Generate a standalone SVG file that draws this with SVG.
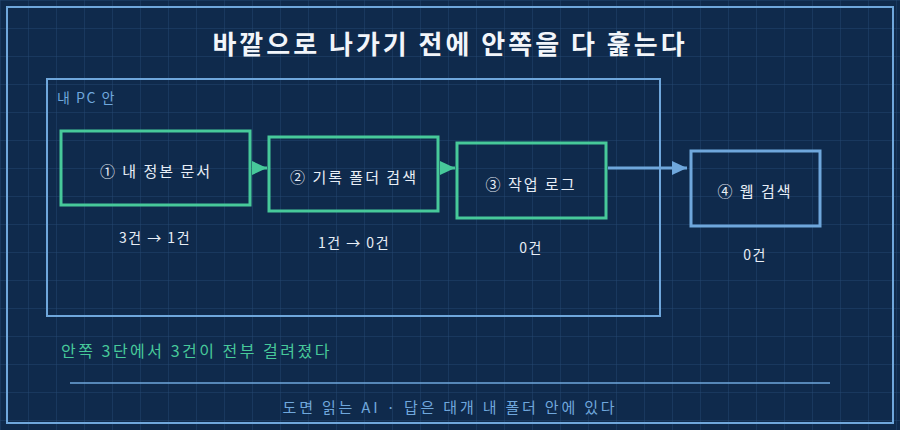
<svg xmlns="http://www.w3.org/2000/svg" width="900" height="430" viewBox="0 0 900 430">
<defs>
<pattern id="grid" width="28" height="28" patternUnits="userSpaceOnUse"><path d="M0 0H28M0 0V28" fill="none" stroke="#23466f" stroke-width="1"/></pattern>
<marker id="ag" markerWidth="16" markerHeight="14" refX="15" refY="7" orient="auto" markerUnits="userSpaceOnUse"><path d="M0 0L15 7L0 14z" fill="#47c99a"/></marker>
<marker id="ab" markerWidth="16" markerHeight="14" refX="15" refY="7" orient="auto" markerUnits="userSpaceOnUse"><path d="M0 0L15 7L0 14z" fill="#6fa7dc"/></marker>
<style>
text{font-family:"Noto Sans CJK KR","Noto Sans",sans-serif}
.g{fill:none;stroke:#47c99a;stroke-width:3}
.b{fill:none;stroke:#6fa7dc;stroke-width:3}
.l{fill:#e8eef6;font-size:15px;text-anchor:middle;letter-spacing:2px}
.c{fill:#e8eef6;font-size:14px;text-anchor:middle;letter-spacing:1.5px}
</style>
</defs>
<rect width="900" height="430" fill="#0f2a4c"/>
<rect width="900" height="430" fill="url(#grid)"/>
<rect x="7" y="7" width="886" height="416" fill="none" stroke="#6fa7dc" stroke-width="2"/>
<text x="450" y="54" text-anchor="middle" font-size="26" font-weight="bold" fill="#f2f5fa" letter-spacing="3">바깥으로 나가기 전에 안쪽을 다 훑는다</text>
<g id="pc"><rect x="47" y="79" width="613" height="237" fill="none" stroke="#6fa7dc" stroke-width="2"/>
<text x="57" y="103" font-size="14" fill="#6fa7dc" letter-spacing="1.5">내 PC 안</text></g>
<g id="n1"><rect class="g" x="61" y="131" width="189" height="74"/><text class="l" x="156" y="177">① 내 정본 문서</text><text class="c" x="155" y="243">3건 → 1건</text></g>
<g id="n2"><rect class="g" x="269" y="137" width="169" height="74"/><text class="l" x="354" y="183">② 기록 폴더 검색</text><text class="c" x="354" y="248">1건 → 0건</text></g>
<g id="n3"><rect class="g" x="457" y="143" width="149" height="75"/><text class="l" x="531" y="190">③ 작업 로그</text><text class="c" x="531" y="253">0건</text></g>
<g id="n4"><rect class="b" x="691" y="151" width="129" height="75"/><text class="l" x="755" y="197">④ 웹 검색</text><text class="c" x="755" y="260">0건</text></g>
<g id="edges">
<line x1="252" y1="168" x2="267" y2="168" stroke="#47c99a" stroke-width="3" marker-end="url(#ag)"/>
<line x1="440" y1="168" x2="455" y2="168" stroke="#47c99a" stroke-width="3" marker-end="url(#ag)"/>
<line x1="608" y1="168" x2="687" y2="168" stroke="#6fa7dc" stroke-width="3" marker-end="url(#ab)"/>
</g>
<text x="61" y="357" font-size="16" fill="#47c99a" letter-spacing="2.5">안쪽 3단에서 3건이 전부 걸려졌다</text>
<line x1="70" y1="383" x2="830" y2="383" stroke="#6fa7dc" stroke-width="1.5"/>
<text x="450" y="413" text-anchor="middle" font-size="15" fill="#6fa7dc" letter-spacing="2.8">도면 읽는 AI · 답은 대개 내 폴더 안에 있다</text>
</svg>
